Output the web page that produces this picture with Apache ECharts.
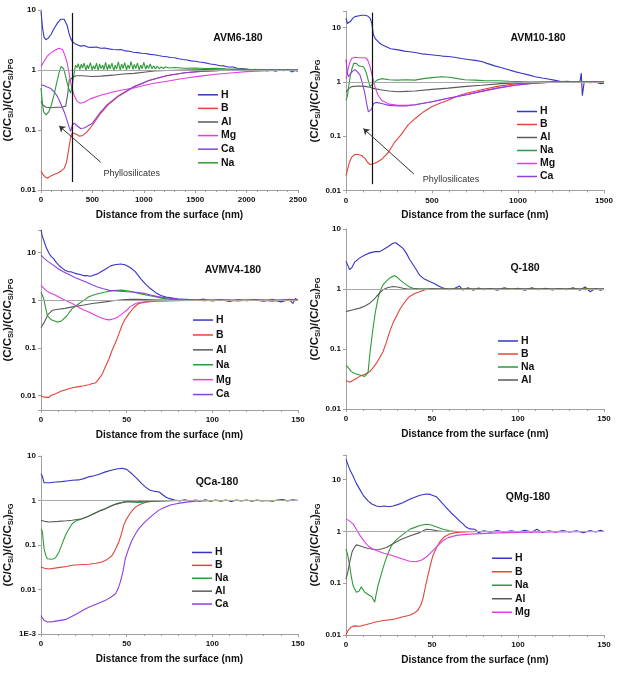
<!DOCTYPE html>
<html>
<head>
<meta charset="utf-8">
<title>Depth profiles</title>
<script src="https://cdn.jsdelivr.net/npm/echarts@6.0.0/dist/echarts.min.js"></script>
<style>
  html, body { margin: 0; padding: 0; background: #fff; }
  #main { width: 631px; height: 682px; }
</style>
</head>
<body>
<div id="main"></div>
<script>
// ---------- data: [distance (nm), (C/CSi)/(C/CSi)PG] ----------
// AVM6-180
var avm6H = [[0,9.5],[15,5],[30,3.5],[48,3.2],[70,3.4],[97,3.9],[130,5],[161,6.1],[190,7.0],[207,7.3],[225,7.0],[240,6.6],[255,5.5],[272,4.1],[290,3.3],[304,3.0],[330,2.75],[360,2.6],[385,2.5],[420,2.55],[460,2.4],[497,2.38],[540,2.42],[580,2.3],[620,2.33],[660,2.25],[700,2.2],[740,2.17],[780,2.2],[820,2.08],[860,2.05],[900,1.98],[940,1.95],[980,1.9],[1020,1.88],[1060,1.82],[1100,1.8],[1140,1.74],[1180,1.7],[1225,1.66],[1260,1.62],[1300,1.6],[1340,1.54],[1380,1.5],[1420,1.47],[1460,1.42],[1500,1.4],[1540,1.36],[1580,1.33],[1613,1.3],[1650,1.26],[1700,1.22],[1740,1.18],[1780,1.17],[1820,1.12],[1870,1.12],[1910,1.07],[1950,1.06],[2000,1.04],[2040,1.0],[2080,1.03],[2120,0.97],[2160,1.01],[2200,0.96],[2240,1.02],[2280,0.95],[2320,1.0],[2360,0.97],[2400,1.02],[2440,0.93],[2470,0.98],[2500,0.95]];
var avm6B = [[0,0.021],[20,0.018],[40,0.0165],[64,0.0157],[90,0.017],[120,0.018],[161,0.019],[200,0.021],[226,0.023],[245,0.028],[258,0.036],[275,0.055],[290,0.077],[305,0.09],[323,0.095],[345,0.085],[371,0.079],[400,0.08],[446,0.092],[500,0.12],[581,0.19],[650,0.26],[750,0.36],[904,0.52],[1050,0.67],[1225,0.8],[1400,0.9],[1550,0.95],[1750,0.98],[2000,1.0],[2500,1.0]];
var avm6Al = [[0,0.3],[20,0.26],[50,0.24],[100,0.235],[150,0.24],[200,0.24],[240,0.25],[260,0.4],[275,0.68],[290,0.72],[310,0.75],[340,0.8],[400,0.8],[500,0.78],[581,0.79],[700,0.82],[800,0.86],[904,0.88],[1000,0.92],[1100,0.96],[1225,0.98],[1400,1.0],[1600,1.02],[1800,1.0],[2000,1.0],[2500,1.0]];
var avm6Mg = [[0,1.15],[30,1.4],[60,1.7],[100,1.95],[140,2.15],[175,2.3],[191,2.4],[210,2.2],[235,1.7],[255,1.3],[275,0.85],[290,0.6],[303,0.49],[325,0.37],[352,0.3],[384,0.28],[420,0.29],[480,0.33],[581,0.38],[700,0.43],[800,0.47],[904,0.5],[1000,0.55],[1100,0.6],[1225,0.65],[1350,0.71],[1450,0.75],[1550,0.79],[1700,0.85],[1871,0.9],[2000,0.94],[2200,0.97],[2350,0.98],[2500,0.99]];
var avm6Ca = [[0,0.56],[30,0.55],[60,0.52],[97,0.49],[130,0.43],[161,0.36],[190,0.28],[226,0.2],[250,0.15],[272,0.114],[288,0.095],[300,0.088],[305,0.12],[323,0.13],[345,0.12],[385,0.106],[420,0.108],[446,0.114],[500,0.13],[581,0.2],[650,0.27],[750,0.37],[904,0.53],[1050,0.67],[1225,0.81],[1400,0.9],[1550,0.95],[1750,0.98],[2000,1.0],[2250,1.0],[2500,1.0]];
var avm6Na = [[0,0.5],[12,0.3],[25,0.2],[50,0.178],[75,0.2],[100,0.26],[126,0.38],[150,0.58],[174,0.88],[195,1.15],[207,1.22],[220,1.05],[240,0.78],[255,0.6],[271,0.49],[288,0.41],[300,0.5],[315,0.75],[336,1.2],[350,1.1],[362,1.28],[378,1.02],[392,1.25],[404,1.08],[420,1.3],[436,0.99],[450,1.22],[462,1.05],[480,1.33],[498,1.0],[510,1.18],[524,1.04],[540,1.3],[556,0.98],[570,1.26],[584,1.06],[600,1.2],[612,1.01],[628,1.34],[646,1.0],[660,1.24],[672,1.05],[690,1.3],[708,0.98],[722,1.2],[736,1.04],[752,1.36],[770,1.0],[784,1.25],[798,1.06],[814,1.32],[832,1.01],[846,1.22],[860,1.05],[876,1.38],[894,1.02],[908,1.24],[922,1.06],[938,1.3],[955,1.01],[970,1.2],[984,1.05],[1000,1.34],[1018,1.03],[1032,1.2],[1046,1.06],[1062,1.26],[1080,1.05],[1096,1.18],[1112,1.04],[1130,1.15],[1150,1.05],[1170,1.13],[1190,1.06],[1210,1.12],[1250,1.08],[1300,1.1],[1400,1.07],[1500,1.08],[1600,1.06],[1700,1.07],[1800,1.05],[1900,1.04],[2000,1.03],[2200,1.0],[2500,1.0]];

// AVM10-180
var avm10H = [[0,15],[8,12],[14,11.5],[25,13],[40,15],[52,16],[70,16.5],[90,17],[110,17],[125,16.5],[140,15],[150,12],[159,7.5],[170,6.3],[190,5.4],[207,4.9],[230,4.5],[260,4.1],[304,3.9],[340,3.7],[370,3.6],[401,3.5],[440,3.3],[480,3.2],[520,3.1],[560,3.0],[594,2.95],[630,2.85],[670,2.7],[710,2.6],[750,2.5],[788,2.38],[820,2.2],[860,2.0],[900,1.85],[940,1.7],[982,1.55],[1020,1.45],[1060,1.35],[1100,1.25],[1140,1.18],[1175,1.13],[1210,1.08],[1250,1.02],[1290,1.03],[1330,0.98],[1360,1.0],[1368,1.45],[1374,0.56],[1385,1.0],[1420,0.97],[1450,1.0],[1480,0.93],[1500,0.95]];
var avm10B = [[0,0.019],[10,0.025],[20,0.033],[33,0.041],[52,0.046],[70,0.046],[91,0.044],[110,0.039],[125,0.033],[140,0.030],[159,0.031],[180,0.033],[210,0.038],[246,0.05],[280,0.075],[324,0.11],[360,0.16],[401,0.21],[450,0.28],[498,0.35],[550,0.41],[594,0.46],[650,0.55],[700,0.62],[788,0.72],[880,0.83],[982,0.92],[1100,0.97],[1200,1.0],[1300,1.0],[1500,1.0]];
var avm10Al = [[0,0.65],[15,0.75],[33,0.82],[70,0.84],[110,0.83],[140,0.8],[159,0.76],[200,0.72],[250,0.68],[304,0.66],[350,0.67],[401,0.68],[500,0.73],[594,0.77],[700,0.83],[788,0.87],[900,0.93],[982,0.96],[1100,0.99],[1200,1.0],[1500,1.0]];
var avm10Na = [[0,0.46],[8,0.55],[14,0.75],[25,1.3],[33,1.7],[45,2.2],[52,2.35],[60,2.2],[72,2.0],[85,1.95],[101,1.9],[110,1.7],[120,1.4],[130,1.05],[140,0.82],[150,0.85],[159,0.95],[180,1.08],[207,1.15],[250,1.1],[300,1.08],[350,1.1],[401,1.08],[450,1.15],[500,1.2],[556,1.25],[600,1.22],[650,1.15],[691,1.1],[750,1.08],[800,1.06],[885,1.05],[950,1.03],[1078,1.0],[1200,1.0],[1500,1.0]];
var avm10Mg = [[0,1.15],[10,1.6],[20,2.2],[33,2.7],[52,2.85],[80,2.8],[110,2.8],[125,2.6],[140,1.9],[155,1.2],[168,0.82],[185,0.58],[207,0.46],[250,0.39],[304,0.37],[350,0.37],[401,0.38],[500,0.43],[594,0.5],[700,0.58],[788,0.67],[880,0.77],[982,0.87],[1080,0.94],[1175,0.98],[1300,1.0],[1500,1.0]];
var avm10Ca = [[0,2.6],[7,1.5],[14,1.25],[25,1.4],[40,1.6],[52,1.68],[65,1.55],[81,1.35],[95,0.95],[110,0.61],[120,0.4],[130,0.28],[140,0.26],[150,0.32],[159,0.4],[178,0.42],[207,0.4],[250,0.37],[304,0.36],[350,0.36],[401,0.38],[500,0.43],[594,0.5],[700,0.58],[788,0.67],[880,0.77],[982,0.87],[1080,0.94],[1175,0.98],[1300,1.0],[1500,1.0]];

// AVMV4-180
var avmv4H = [[0,30],[0.8,22],[1.9,17],[3,13],[4.5,10],[6,8.3],[7.2,7.6],[9,6.2],[11,5.2],[12.6,4.7],[14,4.3],[16,4.0],[17.4,4.0],[19,3.8],[20,4.1],[21,3.6],[22,3.8],[23,3.5],[25,3.3],[27,3.3],[29,3.2],[31,3.4],[33,3.6],[35,4.0],[38,4.6],[40.6,5.3],[43,5.6],[46.5,5.8],[49,5.6],[52,4.9],[55,4.0],[58,2.9],[61,2.2],[64,1.75],[67,1.45],[70,1.26],[73,1.18],[76,1.13],[80,1.07],[85,1.05],[90,1.0],[95,1.06],[100,0.97],[105,1.03],[110,0.95],[115,1.04],[120,0.98],[125,1.02],[130,0.96],[135,1.05],[140,0.93],[145,1.04],[147,0.86],[148.5,1.1],[150,1.0]];
var avmv4B = [[0,0.0097],[2,0.0093],[4.7,0.0092],[6,0.0102],[8.5,0.011],[12,0.0125],[15,0.0135],[18.2,0.0146],[22,0.0155],[25,0.0162],[27.9,0.017],[30,0.018],[31.8,0.0185],[33.5,0.022],[35.7,0.028],[37.5,0.04],[39.6,0.058],[41.5,0.09],[43.5,0.13],[45.5,0.2],[47.3,0.3],[49,0.4],[51.2,0.52],[54,0.7],[57,0.86],[61,0.92],[66.7,0.96],[75,0.99],[85,1.0],[150,1.0]];
var avmv4Al = [[0,0.27],[2,0.35],[4,0.5],[6.6,0.62],[10,0.65],[14,0.68],[18.2,0.73],[25,0.8],[30,0.86],[37.6,0.93],[42,0.98],[47.3,1.03],[52,1.05],[57,1.05],[65,1.03],[76.4,1.0],[150,1.0]];
var avmv4Na = [[0,1.5],[1.5,1.1],[3.7,0.48],[6,0.39],[9.5,0.35],[12,0.37],[15,0.47],[18.2,0.67],[22,0.85],[25,1.0],[27.9,1.19],[32,1.35],[37.6,1.5],[42,1.6],[47.3,1.64],[52,1.55],[57,1.4],[62,1.28],[66.7,1.19],[71,1.1],[76.4,1.05],[85,1.02],[95,1.0],[150,1.0]];
var avmv4Mg = [[0,2.1],[1,1.9],[2.7,1.64],[5,1.45],[8.5,1.28],[12,1.1],[15,0.97],[18.2,0.86],[22,0.72],[25,0.63],[27.9,0.57],[32,0.48],[35,0.43],[37.6,0.4],[40,0.39],[42.5,0.41],[45,0.45],[47.3,0.52],[50,0.62],[52,0.73],[55,0.85],[57,0.9],[62,0.95],[66.7,0.97],[75,0.99],[85,1.0],[150,1.0]];
var avmv4Ca = [[0,8.9],[2,7.5],[4,6.6],[7.2,5.5],[10,4.6],[13,4.0],[16.9,3.4],[20,3.0],[23,2.7],[26.6,2.4],[30,2.1],[33,1.9],[36.4,1.75],[40,1.62],[46,1.55],[50,1.52],[56,1.48],[60,1.4],[64,1.3],[68,1.2],[73.6,1.13],[80,1.06],[85,1.03],[90,1.02],[95,0.98],[105,1.03],[115,0.97],[125,1.04],[135,0.96],[145,1.05],[150,1.0]];

// Q-180
var qH = [[0,2.9],[1,2.5],[2.1,2.1],[3.5,2.3],[5,2.8],[8,3.3],[11,3.7],[13.8,4.0],[17,4.2],[19.6,4.2],[22,4.6],[25,5.2],[27.3,5.8],[29,5.9],[31,5.3],[33,4.8],[35,4.0],[37,3.1],[40,2.3],[42.8,1.7],[45,1.5],[48.6,1.33],[51,1.25],[54.4,1.1],[56,1.05],[60,0.97],[63,1.02],[66,1.12],[68,0.96],[71,1.05],[74,0.95],[77,1.04],[80,0.97],[84,1.02],[88,0.95],[92,1.05],[96,0.98],[100,1.03],[104,0.95],[108,1.05],[112,0.97],[116,1.03],[120,0.96],[124,1.02],[128,0.97],[132,1.05],[136,0.95],[139,1.08],[142,0.9],[145,1.02],[148,0.95],[150,1.0]];
var qB = [[0,0.030],[1,0.029],[2.1,0.028],[5,0.031],[8,0.035],[11,0.038],[13.8,0.042],[16,0.05],[17.7,0.058],[19.6,0.072],[21.5,0.09],[23.5,0.13],[25.4,0.195],[27.3,0.27],[29.3,0.35],[31.2,0.45],[33.1,0.55],[35,0.65],[37,0.75],[40,0.84],[42.8,0.9],[45.5,0.96],[48.6,1.0],[50,1.02],[53,1.0],[150,1.0]];
var qNa = [[0,0.054],[1.5,0.048],[3.1,0.042],[5,0.039],[8,0.037],[10.9,0.035],[12,0.033],[12.8,0.04],[14,0.09],[15.7,0.22],[17,0.4],[18.6,0.7],[20,0.95],[21.5,1.17],[23.5,1.35],[25.4,1.52],[27,1.62],[28.3,1.67],[30,1.55],[31.2,1.43],[33,1.3],[35.1,1.17],[37,1.08],[39,1.03],[42.8,1.0],[150,1.0]];
var qAl = [[0,0.42],[4,0.45],[8,0.48],[11,0.52],[13.8,0.58],[16,0.66],[17.7,0.75],[19.5,0.85],[21.5,0.97],[24,1.05],[27.3,1.1],[30,1.08],[33.1,1.03],[36,1.0],[39,1.0],[150,1.0]];

// QCa-180
var qcaH = [[0,4.0],[0.8,3.5],[1.8,2.5],[2.7,2.3],[5,2.5],[8.5,2.6],[12,2.65],[15,2.75],[18.2,2.85],[22,2.9],[25,3.1],[27.9,3.4],[31,3.6],[34,3.9],[37.6,4.4],[41,4.8],[44,5.1],[47.3,5.3],[50,5.0],[53,4.0],[56,3.1],[58.8,2.4],[61,2.0],[63.7,1.7],[66.6,1.6],[69,1.55],[71,1.35],[73,1.18],[75,1.1],[78,1.03],[81,0.98],[84,1.04],[87,0.96],[90,1.03],[93,0.97],[96,1.04],[99,0.96],[102,1.02],[105,0.97],[108,1.03],[111,0.95],[114,1.02],[117,0.98],[120,1.03],[123,0.96],[126,1.02],[129,0.98],[132,1.0],[135,0.96],[138,1.03],[141,1.05],[144,0.98],[147,1.04],[150,1.0]];
var qcaB = [[0,0.032],[2,0.03],[4.7,0.029],[10,0.031],[15,0.033],[18.2,0.035],[22,0.036],[27.9,0.037],[32,0.039],[35,0.041],[37.6,0.045],[39.5,0.05],[41.5,0.058],[43.5,0.08],[45.4,0.117],[47,0.18],[48.3,0.28],[49.7,0.37],[51.2,0.46],[53,0.58],[55.1,0.71],[58,0.82],[60.9,0.9],[63,0.94],[66.7,0.97],[72,0.99],[80,1.0],[150,1.0]];
var qcaNa = [[0,0.23],[0.8,0.2],[1.8,0.083],[2.7,0.06],[3.7,0.049],[6,0.048],[7.6,0.049],[9,0.055],[10.5,0.07],[12.5,0.11],[14.3,0.165],[16,0.22],[18.2,0.3],[20,0.34],[24,0.39],[28,0.45],[32,0.53],[35,0.6],[37.6,0.65],[41,0.76],[44,0.85],[47.3,0.91],[50,0.97],[53,0.93],[56,0.9],[60,0.92],[65,0.96],[70,0.98],[80,1.0],[150,1.0]];
var qcaAl = [[0,0.36],[2,0.34],[4.7,0.33],[10,0.34],[15,0.35],[18.2,0.36],[24,0.39],[28,0.45],[32,0.53],[35,0.6],[37.6,0.65],[41,0.75],[44,0.83],[47.3,0.89],[50,0.93],[57,0.95],[65,0.98],[75,1.0],[150,1.0]];
var qcaCa = [[0,0.0026],[0.8,0.0023],[2,0.002],[3.7,0.00186],[7,0.0019],[10.5,0.002],[14,0.0021],[18.2,0.0025],[22,0.003],[25,0.0035],[27.9,0.004],[31,0.0045],[34,0.005],[37.6,0.0057],[41,0.0068],[43.5,0.008],[45,0.0105],[46.3,0.0148],[47.8,0.025],[49.2,0.049],[51,0.08],[53.1,0.128],[55,0.175],[57,0.23],[60,0.31],[62.8,0.39],[65.5,0.48],[68.6,0.6],[72,0.7],[76,0.8],[80,0.86],[85,0.92],[90,0.96],[95,0.98],[100,1.0],[150,1.0]];

// QMg-180
var qmgH = [[0,25],[1,20],[2.1,16],[4.1,11.8],[6,8.5],[8,6.5],[10,5],[12.8,3.9],[15,3.4],[17.7,3.1],[20,3.0],[22,3.1],[25,3.0],[27.3,3.1],[30,3.3],[33,3.6],[37,4.2],[40,4.6],[43,5.0],[46.7,5.3],[49,5.2],[52.5,4.7],[55,3.8],[58.3,2.9],[61,2.3],[64.1,1.85],[66,1.6],[68,1.4],[70,1.2],[72,1.12],[75,1.1],[77,0.95],[80,1.03],[84,0.97],[88,1.04],[92,0.96],[96,1.03],[100,0.98],[104,1.05],[108,0.97],[111,1.1],[114,0.96],[118,1.03],[122,0.97],[126,1.04],[130,0.98],[134,1.03],[138,0.95],[142,1.04],[145,0.98],[148,1.06],[150,1.0]];
var qmgB = [[0,0.0099],[1,0.012],[3.1,0.0143],[5,0.015],[8,0.0148],[12,0.016],[17.7,0.018],[22,0.019],[27.3,0.02],[32,0.022],[37,0.024],[40,0.027],[41.8,0.03],[43.5,0.038],[44.7,0.05],[46,0.08],[47.6,0.14],[49,0.22],[50.5,0.34],[52.5,0.48],[54.4,0.62],[57,0.78],[60.2,0.89],[63,0.94],[66,0.97],[72,0.99],[80,1.0],[150,1.0]];
var qmgNa = [[0,0.46],[1,0.35],[2.1,0.22],[3,0.14],[4.1,0.09],[6,0.067],[7.5,0.07],[8.9,0.085],[10,0.09],[10.9,0.067],[12,0.07],[13.8,0.058],[15,0.055],[16.7,0.043],[17.5,0.06],[18.6,0.09],[20.5,0.15],[22.5,0.25],[24.5,0.38],[26.4,0.53],[29,0.68],[32.2,0.83],[35,0.98],[37,1.1],[40,1.2],[43,1.3],[46.7,1.38],[49,1.35],[52,1.25],[56.3,1.1],[60,1.03],[64,1.0],[150,1.0]];
var qmgAl = [[0,0.12],[1,0.16],[2.1,0.25],[3.5,0.4],[5,0.5],[6,0.55],[8,0.53],[10,0.5],[12.8,0.47],[15,0.46],[17.7,0.44],[20.5,0.46],[23.5,0.49],[27,0.57],[32.2,0.71],[37,0.82],[42.8,0.95],[46.7,1.1],[50,1.08],[53,1.03],[56.3,1.0],[150,1.0]];
var qmgMg = [[0,1.75],[2,1.6],[4.1,1.4],[6,1.1],[8,0.85],[10.5,0.65],[12.8,0.53],[15,0.47],[17.7,0.43],[22,0.38],[27.3,0.34],[32,0.3],[37,0.265],[40.9,0.26],[44,0.28],[46.7,0.32],[49,0.38],[51.5,0.46],[54,0.56],[56.3,0.66],[59.6,0.76],[64.1,0.84],[70,0.88],[75,0.9],[85,0.93],[100,0.96],[120,0.98],[150,1.0]];

// annotations (data coordinates)
var avm6Cut = 300, avm10Cut = 150;
var avm6Arrow = [[581, 0.029], [177, 0.117]];
var avm10Arrow = [[395, 0.020], [101, 0.138]];
var avm6Note = [882, 0.019];
var avm10Note = [610, 0.016];

// ---------- layout ----------
var colors = { H: '#3535c8', B: '#e3443a', Al: '#5a5a5a', Na: '#2e9a3a', Mg: '#e23ee2', Ca: '#8d3fe0' };
var FONT = '"Liberation Sans", Arial, sans-serif';

var panels = [
  { title: 'AVM6-180', xmax: 2500, xint: 500, ymin: 0.01, ymax: 10, left: 40, top: 10, h: 180,
    titleAt: [238, 38], legAt: [198, 88], legGap: 13.6, nameGap: 26,
    lines: [['H', avm6H], ['B', avm6B], ['Al', avm6Al], ['Mg', avm6Mg], ['Ca', avm6Ca], ['Na', avm6Na]],
    cut: avm6Cut, cutY: [0.0136, 8.9], arrow: avm6Arrow, note: avm6Note },
  { title: 'AVM10-180', xmax: 1500, xint: 500, ymin: 0.01, ymax: 20, left: 346, top: 11.4, h: 179,
    titleAt: [538, 38], legAt: [517, 105], legGap: 13, nameGap: 23,
    lines: [['H', avm10H], ['B', avm10B], ['Al', avm10Al], ['Na', avm10Na], ['Mg', avm10Mg], ['Ca', avm10Ca]],
    cut: avm10Cut, cutY: [0.013, 19], arrow: avm10Arrow, note: avm10Note },
  { title: 'AVMV4-180', xmax: 150, xint: 50, ymin: 0.005, ymax: 30, left: 40, top: 230, h: 180,
    titleAt: [233, 270], legAt: [193, 312.6], legGap: 14.9, nameGap: 26,
    lines: [['H', avmv4H], ['B', avmv4B], ['Al', avmv4Al], ['Na', avmv4Na], ['Mg', avmv4Mg], ['Ca', avmv4Ca]] },
  { title: 'Q-180', xmax: 150, xint: 50, ymin: 0.01, ymax: 10, left: 346, top: 229, h: 180,
    titleAt: [525, 268], legAt: [498, 334.5], legGap: 13, nameGap: 23,
    lines: [['H', qH], ['B', qB], ['Na', qNa], ['Al', qAl]] },
  { title: 'QCa-180', xmax: 150, xint: 50, ymin: 0.001, ymax: 10, left: 40, top: 456, h: 178,
    titleAt: [217, 482], legAt: [192, 546], legGap: 12.9, nameGap: 26,
    lines: [['H', qcaH], ['B', qcaB], ['Na', qcaNa], ['Al', qcaAl], ['Ca', qcaCa]] },
  { title: 'QMg-180', xmax: 150, xint: 50, ymin: 0.01, ymax: 30, left: 346, top: 455, h: 180,
    titleAt: [528, 497], legAt: [492, 551.5], legGap: 13.5, nameGap: 23,
    lines: [['H', qmgH], ['B', qmgB], ['Na', qmgNa], ['Al', qmgAl], ['Mg', qmgMg]] }
];

function logLabel(v) {
  var e = Math.log(v) / Math.LN10;
  if (Math.abs(e - Math.round(e)) > 1e-6) return '';
  if (Math.round(e) === -3) return '1E-3';
  return String(+v.toPrecision(3));
}

var grid = [], xAxis = [], yAxis = [], series = [], legend = [], graphic = [];

panels.forEach(function (p, i) {
  grid.push({ left: p.left, top: p.top, width: 258, height: p.h });
  xAxis.push({
    gridIndex: i, type: 'value', min: 0, max: p.xmax, interval: p.xint,
    name: 'Distance from the surface (nm)', nameLocation: 'middle', nameGap: 20,
    nameTextStyle: { fontFamily: FONT, fontWeight: 'bold', fontSize: 10, color: '#111' },
    axisLine: { lineStyle: { color: '#a0a0a0' } },
    axisTick: { length: 3, lineStyle: { color: '#a0a0a0' } },
    minorTick: { show: true, splitNumber: 5, length: 2, lineStyle: { color: '#a0a0a0' } },
    axisLabel: { fontFamily: FONT, fontWeight: 'bold', fontSize: 8, color: '#111', margin: 6,
                 formatter: function (v) { return String(v); } },
    splitLine: { show: false }
  });
  yAxis.push({
    gridIndex: i, type: 'log', min: p.ymin, max: p.ymax,
    name: '(C/C{s|Si})/(C/C{s|Si}){s|PG}', nameLocation: 'middle', nameGap: p.nameGap,
    nameTextStyle: {
      fontFamily: FONT, fontWeight: 'bold', fontSize: 11.5, color: '#111', lineHeight: 14,
      rich: { s: { fontFamily: FONT, fontWeight: 'bold', fontSize: 7.5, color: '#111', lineHeight: 14, verticalAlign: 'bottom' } }
    },
    axisLine: { show: true, lineStyle: { color: '#a0a0a0' } },
    axisTick: { length: 3, lineStyle: { color: '#a0a0a0' } },
    axisLabel: { fontFamily: FONT, fontWeight: 'bold', fontSize: 8, color: '#111', margin: 5, formatter: logLabel },
    splitLine: { show: false }
  });

  p.lines.forEach(function (ln, k) {
    var s = {
      name: ln[0], type: 'line', xAxisIndex: i, yAxisIndex: i, data: ln[1],
      symbol: 'none', showSymbol: false, animation: false, silent: true,
      lineStyle: { color: colors[ln[0]], width: 1.1 }, itemStyle: { color: colors[ln[0]] }
    };
    if (k === 0) {
      var ml = [[{ coord: [0, 1], lineStyle: { color: '#a8a8a8', width: 1, type: 'solid' } }, { coord: [p.xmax, 1] }]];
      if (p.cut) {
        ml.push([{ coord: [p.cut, p.cutY[0]], lineStyle: { color: '#111', width: 1.2, type: 'solid' } }, { coord: [p.cut, p.cutY[1]] }]);
        ml.push([{ coord: p.arrow[0], symbol: 'none', lineStyle: { color: '#333', width: 1, type: 'solid' } },
                 { coord: p.arrow[1], symbol: 'arrow', symbolSize: 6 }]);
      }
      s.markLine = { silent: true, symbol: 'none', label: { show: false }, animation: false,
                     lineStyle: { type: 'solid' }, data: ml };
      if (p.note) {
        s.markPoint = {
          silent: true, symbol: 'rect', symbolSize: 1, itemStyle: { color: 'rgba(0,0,0,0)' }, animation: false,
          label: { show: true, position: 'inside', formatter: 'Phyllosilicates', color: '#333', fontFamily: FONT, fontSize: 9 },
          data: [{ coord: p.note }]
        };
      }
    }
    series.push(s);
  });

  legend.push({
    orient: 'vertical', left: p.legAt[0], top: p.legAt[1], padding: 0, itemGap: 0,
    itemWidth: 20, itemHeight: 1.5, icon: 'rect', selectedMode: false,
    data: p.lines.map(function (ln) { return { name: ln[0], itemStyle: { color: colors[ln[0]] } }; }),
    textStyle: { fontFamily: FONT, fontWeight: 'bold', fontSize: 10.5, color: '#111', lineHeight: p.legGap, padding: [0, 0, 0, -2] }
  });

  graphic.push({
    type: 'text', x: p.titleAt[0], y: p.titleAt[1], silent: true,
    style: { text: p.title, align: 'center', verticalAlign: 'middle', font: 'bold 10.5px ' + FONT, fill: '#111' }
  });
});

var chart = echarts.init(document.getElementById('main'), null, { renderer: 'canvas' });
chart.setOption({
  animation: false,
  backgroundColor: '#fff',
  grid: grid, xAxis: xAxis, yAxis: yAxis, legend: legend, series: series, graphic: graphic
});
</script>
</body>
</html>
